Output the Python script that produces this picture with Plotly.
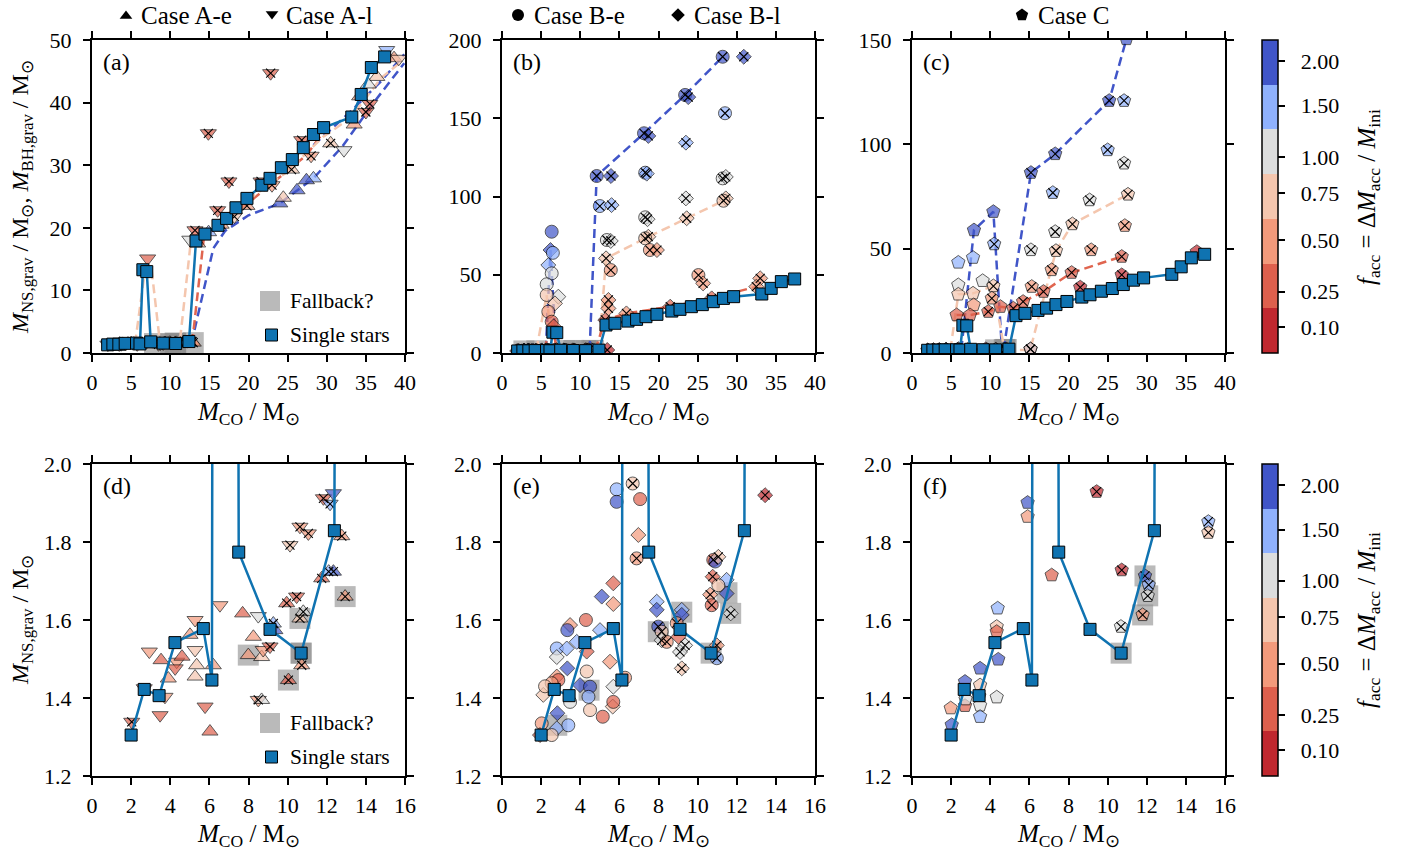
import plotly.graph_objects as go

W, H = 1411, 859
FONT = "Liberation Serif"

# ---------------- colour classes (f_acc) ----------------
F_LEVELS = [0.10, 0.25, 0.50, 0.75, 1.00, 1.50, 2.00]
F_COLORS = ["#c0282f", "#de604d", "#f39a7b", "#f4c6ae", "#dcdddd", "#8fb1fd", "#4055c8"]
CB_TICKPOS = [0.58, 1.37, 2.52, 3.57, 4.38, 5.53, 6.52]
CB_TICKTEXT = ["0.10", "0.25", "0.50", "0.75", "1.00", "1.50", "2.00"]

# ---------------- single stars ----------------
SS_X = [2.0, 2.67, 3.43, 4.24, 5.69, 6.13, 6.5, 7.0, 7.5, 9.1, 10.69, 12.39, 13.29, 14.44, 16.1,
        17.2, 18.4, 19.8, 21.7, 22.75, 24.2, 25.6, 27.0, 28.3, 29.6, 33.2, 34.4, 35.7, 37.4]
SS_Y = [1.305, 1.422, 1.406, 1.542, 1.578, 1.446, 13.3, 13.0, 1.774, 1.576, 1.515, 1.829, 17.9, 19.0, 20.4,
        21.5, 23.2, 24.7, 26.8, 27.9, 29.6, 30.9, 32.8, 34.9, 36.0, 37.7, 41.3, 45.6, 47.3]

# ---------------- Case A (u = A-e, d = A-l) ----------------
A_X = [2.03, 2.67, 3.48, 2.93, 3.53, 3.73, 3.9, 4.33, 4.25, 4.6, 5.01, 5.27, 5.27, 5.35, 5.27, 5.78, 6.03, 6.2,
       6.54, 7.7, 8.5, 8.25, 7.99, 8.67, 8.75, 9.1, 9.27, 9.35, 8.5, 8.67, 10.04, 9.95, 10.46, 10.63, 10.8,
       10.72, 10.12, 10.63, 11.06, 11.74, 12.34, 12.1, 11.83, 12.34, 12.17, 12.77, 12.94,
       7.11, 14.87, 17.5, 16.06, 13.16, 12.5, 13.5, 14.9, 22.83, 26.8, 21.6, 32.2, 24.0, 26.2, 28.3, 27.4,
       24.45, 35.0, 35.5, 36.4, 35.3, 37.66, 38.6, 16.5, 18.2, 19.8, 23.0, 25.5, 28.0, 30.5, 33.5, 34.2, 39.2]
A_Y = [1.339, 1.425, 1.356, 1.519, 1.497, 1.403, 1.45, 1.493, 1.476, 1.506, 1.562, 1.6, 1.523, 1.484, 1.455,
       1.378, 1.314, 1.484, 1.638, 1.617, 1.61, 1.557, 1.51, 1.505, 1.523, 1.532, 1.591, 1.574, 1.395, 1.395,
       1.446, 1.643, 1.66, 1.604, 1.621, 1.484, 1.792, 1.839, 1.822, 1.707, 1.724, 1.724, 1.912, 1.925, 1.898,
       1.815, 1.66,
       15.1, 35.1, 27.4, 22.8, 19.6, 18.1, 17.5, 19.3, 44.7, 34.0, 27.4, 32.4, 23.9, 26.0, 27.9, 27.6,
       24.8, 38.5, 39.8, 44.1, 42.9, 48.4, 47.1, 20.5, 21.8, 23.5, 26.8, 29.3, 31.5, 33.5, 36.5, 41.0, 47.0]
A_F = [0.25, 0.25, 0.25, 0.5, 0.25, 0.5, 0.5, 0.5, 0.25, 0.25, 0.5, 0.5, 0.75, 0.75, 0.75, 0.25, 0.25, 0.5,
       0.5, 0.25, 1.0, 0.5, 0.5, 0.75, 0.5, 0.25, 1.5, 2.0, 0.5, 1.0, 0.25, 0.25, 0.25, 0.75, 1.0,
       0.5, 0.75, 0.5, 0.5, 0.25, 2.0, 1.5, 0.25, 2.0, 1.5, 0.5, 0.5,
       0.25, 0.25, 0.25, 0.25, 0.25, 1.0, 0.75, 1.5, 0.25, 0.25, 0.25, 1.0, 2.0, 2.0, 1.5, 2.0,
       0.75, 0.25, 0.25, 0.75, 1.0, 1.5, 0.5, 0.5, 0.75, 0.5, 0.5, 0.75, 0.5, 0.75, 0.5, 0.5, 0.75]
A_S = ["d", "d", "d", "d", "u", "d", "u", "d", "d", "u", "u", "d", "d", "u", "u", "d", "u", "u",
       "d", "u", "d", "u", "u", "u", "d", "d", "u", "u", "d", "u", "u", "u", "d", "u", "u",
       "u", "d", "d", "d", "u", "u", "u", "d", "d", "d", "u", "u",
       "d", "d", "d", "d", "d", "d", "u", "u", "d", "d", "d", "d", "u", "u", "u", "u",
       "u", "d", "d", "u", "u", "d", "u", "u", "d", "u", "d", "u", "d", "u", "u", "u", "d"]
A_C = [1, 0, 0, 0, 0, 0, 0, 0, 0, 0, 0, 0, 0, 0, 0, 0, 0, 0,
       0, 0, 0, 0, 0, 0, 0, 1, 1, 0, 1, 0, 1, 1, 1, 1, 1,
       1, 1, 1, 1, 1, 1, 1, 1, 0, 1, 1, 1,
       0, 1, 1, 1, 1, 0, 0, 0, 1, 1, 1, 0, 0, 0, 0, 0,
       0, 1, 1, 0, 0, 0, 0, 1, 1, 1, 1, 1, 1, 1, 0, 0, 0]
A_FB_X = [7.99, 10.04, 10.63, 10.69, 10.69, 12.94]
A_FB_Y = [1.51, 1.446, 1.604, 1.515, 1.515, 1.66]

A_DASH = [
    ("#4055c8", [12.7, 15.5, 17.0, 20.0, 24.0, 26.2, 28.3, 32.0, 36.0, 39.9],
                [1.5, 16.7, 19.5, 22.0, 23.9, 26.0, 27.9, 33.0, 40.0, 46.3]),
    ("#4055c8", [28.3, 33.0, 37.0, 39.9], [33.2, 38.5, 43.5, 47.7]),
    ("#e0654f", [12.8, 14.3, 20.0, 27.4, 29.4], [1.6, 18.5, 24.0, 31.6, 35.0]),
    ("#f4c6ae", [5.5, 6.8, 7.6, 8.7, 11.2, 12.6, 16.0, 25.0, 29.5, 33.0, 37.0, 39.5],
                [1.5, 13.5, 13.5, 1.5, 1.5, 17.5, 21.0, 29.0, 34.5, 37.5, 44.0, 46.5]),
]

# ---------------- Case B (c = B-e, D = B-l) ----------------
B_X = [5.86, 5.86, 6.68, 7.06, 6.97, 6.88, 13.45, 5.69, 5.1, 5.69, 4.29, 3.48, 3.34, 5.01, 5.52, 5.69, 6.29,
       4.5, 5.15, 5.66, 5.69, 2.8, 3.31, 2.8, 3.82, 4.33, 3.34, 4.33, 2.8, 2.88, 3.99, 4.5, 4.42, 2.54, 2.11,
       3.48, 2.83, 2.8, 3.39, 2.03, 1.94, 2.54, 2.2, 7.91, 7.91, 7.99, 8.16, 8.16, 8.42, 9.19, 9.19, 8.93,
       9.02, 9.36, 9.1, 9.19, 10.8, 10.9, 11.06, 10.77, 11.48, 11.06, 11.48, 10.64, 10.72, 11.69, 10.98, 10.98,
       28.2, 30.9, 23.4, 23.8, 18.15, 18.7, 28.5, 23.5, 12.1, 13.93, 18.3, 18.5, 12.5, 14.0, 28.2, 28.6,
       23.5, 18.3, 18.6, 13.4, 13.9, 28.6, 28.3, 23.6, 18.7, 18.3, 18.9, 19.8, 13.3, 13.9, 25.1, 25.7, 33.0,
       32.5, 13.6, 13.6, 13.2, 15.9, 21.5, 26.8,
       6.35, 6.2, 6.5, 5.92, 6.35, 5.71, 7.2, 5.71, 6.77, 5.92, 6.35, 6.6]
B_Y = [1.935, 1.903, 1.95, 1.91, 1.818, 1.758, 1.92, 1.694, 1.66, 1.641, 1.6, 1.587, 1.574, 1.574, 1.493,
       1.429, 1.452, 1.369, 1.352, 1.378, 1.39, 1.527, 1.527, 1.505, 1.544, 1.519, 1.476, 1.468, 1.455, 1.446,
       1.433, 1.429, 1.403, 1.438, 1.408, 1.39, 1.361, 1.322, 1.33, 1.335, 1.305, 1.305, 1.43, 1.647, 1.626,
       1.583, 1.57, 1.548, 1.544, 1.626, 1.613, 1.592, 1.557, 1.535, 1.518, 1.476, 1.754, 1.75, 1.762, 1.711,
       1.703, 1.689, 1.668, 1.665, 1.638, 1.617, 1.535, 1.502,
       189.3, 189.3, 164.9, 163.5, 140.4, 138.7, 153.2, 134.4, 113.1, 113.1, 115.2, 114.6, 93.9, 94.5, 111.6,
       112.5, 98.8, 86.7, 85.5, 72.2, 71.6, 98.8, 97.3, 86.1, 74.3, 73.3, 65.8, 65.8, 60.5, 53.0, 49.8, 44.5,
       47.7, 42.4, 33.9, 28.5, 21.1, 25.3, 29.6, 34.9,
       77.5, 65.8, 64.0, 56.2, 50.9, 43.9, 36.0, 37.1, 31.7, 26.4, 20.0, 17.0]
B_F = [1.5, 2.0, 0.75, 0.25, 0.5, 0.5, 0.1, 0.25, 2.0, 0.5, 0.25, 0.5, 2.0, 1.5, 0.5, 1.0, 0.5,
       0.75, 0.25, 0.75, 0.25, 1.5, 1.5, 1.0, 1.5, 0.25, 2.0, 0.75, 0.5, 0.25, 2.0, 2.0, 1.5, 0.5, 0.75,
       1.0, 2.0, 1.5, 1.5, 0.5, 0.25, 0.75, 0.75, 1.5, 2.0, 2.0, 0.75, 1.0, 0.5, 1.5, 2.0, 0.5,
       0.25, 1.0, 1.0, 0.75, 0.25, 2.0, 0.75, 0.25, 1.5, 0.75, 2.0, 0.5, 0.25, 1.0, 0.5, 1.5,
       2.0, 2.0, 2.0, 2.0, 2.0, 2.0, 1.5, 1.5, 2.0, 2.0, 1.5, 1.5, 1.5, 1.5, 1.0, 1.0,
       1.0, 1.0, 1.0, 1.0, 1.0, 0.75, 0.75, 0.75, 0.75, 0.75, 0.5, 0.5, 0.75, 0.5, 0.5, 0.5, 0.5,
       0.5, 0.5, 0.5, 0.25, 0.5, 0.25, 0.25,
       2.0, 2.0, 1.5, 1.5, 1.0, 1.0, 1.0, 0.75, 0.75, 0.5, 0.25, 0.25]
B_S = ["c", "c", "c", "c", "D", "c", "D", "D", "D", "D", "c", "D", "c", "D", "D", "D", "c",
       "c", "c", "D", "c", "c", "D", "D", "D", "D", "D", "c", "D", "c", "D", "c", "c", "c", "D",
       "c", "D", "D", "c", "c", "D", "c", "c", "D", "D", "c", "c", "D", "c", "D", "D", "c",
       "D", "D", "D", "D", "c", "c", "D", "D", "D", "c", "D", "D", "c", "D", "D", "c",
       "c", "D", "c", "D", "c", "D", "c", "D", "c", "D", "c", "D", "c", "D", "c", "D",
       "D", "c", "D", "c", "D", "D", "c", "D", "D", "c", "c", "D", "D", "c", "c", "D", "D",
       "D", "D", "D", "D", "D", "D", "D",
       "c", "D", "c", "D", "c", "c", "D", "c", "D", "c", "c", "D"]
B_C = [0, 0, 1, 0, 0, 1, 1, 0, 0, 0, 0, 0, 0, 0, 0, 0, 0,
       0, 0, 0, 0, 0, 0, 0, 0, 0, 0, 0, 0, 0, 0, 0, 0, 0, 0,
       0, 0, 0, 0, 0, 0, 0, 0, 0, 0, 1, 1, 1, 1, 0, 0, 1,
       0, 1, 1, 1, 1, 0, 1, 1, 0, 0, 0, 1, 1, 1, 1, 1,
       1, 1, 1, 1, 1, 1, 1, 1, 1, 1, 1, 1, 1, 1, 1, 1,
       1, 1, 1, 1, 1, 1, 1, 1, 1, 1, 1, 1, 1, 1, 1, 1, 1,
       1, 1, 1, 1, 1, 1, 1,
       0, 0, 0, 0, 0, 0, 0, 0, 0, 0, 0, 0]
B_FB_X = [2.8, 4.45, 7.99, 9.19, 10.69, 11.69, 11.5]
B_FB_Y = [1.33, 1.42, 1.57, 1.62, 1.515, 1.617, 1.67]

B_DASH = [
    ("#4055c8", [11.2, 12.1, 18.15, 23.4, 28.2], [2.0, 113.1, 140.4, 164.9, 189.3]),
    ("#4055c8", [5.6, 6.2, 6.9], [2.0, 65.8, 2.0]),
    ("#f4c6ae", [12.4, 13.3, 18.3, 23.6, 28.3], [2.0, 60.5, 73.3, 86.1, 97.3]),
    ("#f4c6ae", [4.4, 5.7, 6.4], [2.0, 37.1, 2.0]),
    ("#e0654f", [11.9, 13.2, 15.9, 21.5, 26.8, 32.5], [1.8, 21.1, 25.3, 29.6, 34.9, 42.4]),
    ("#e0654f", [5.4, 6.35, 7.0], [2.0, 20.0, 2.0]),
]

# ---------------- Case C (p = pentagon) ----------------
C_X = [5.91, 5.91, 9.44, 15.15, 15.15, 7.14, 10.72, 11.91, 12.1, 12.05, 11.79, 10.68, 4.38, 4.33, 4.33,
       4.41, 3.48, 3.48, 4.33, 2.71, 2.71, 2.74, 1.98, 3.44, 3.48, 3.48, 2.03,
       27.4, 25.2, 27.1, 18.3, 15.2, 25.0, 27.1, 18.0, 22.7, 27.6, 20.5, 18.3, 27.2, 15.2, 18.4, 22.9,
       10.4, 7.92, 10.5, 5.92, 7.8, 5.92, 9.03, 10.4, 5.92, 7.8, 10.2, 7.88, 5.7, 7.41, 9.75, 11.3,
       17.85, 15.3, 20.4, 26.8, 26.8, 21.5, 16.8, 14.2, 12.95, 36.4]
C_Y = [1.901, 1.865, 1.929, 1.852, 1.824, 1.715, 1.728, 1.713, 1.69, 1.662, 1.613, 1.583, 1.63, 1.583, 1.57,
       1.499, 1.476, 1.433, 1.402, 1.442, 1.38, 1.397, 1.374, 1.405, 1.381, 1.352, 1.331,
       150.5, 120.9, 120.9, 95.4, 86.4, 97.3, 90.9, 76.8, 73.3, 76.0, 61.8, 58.1, 61.0, 49.4, 49.0, 49.4,
       67.7, 58.9, 52.2, 43.4, 45.7, 32.6, 34.6, 32.1, 28.1, 28.6, 26.2, 23.0, 18.2, 18.2, 19.8, 22.2,
       39.8, 31.8, 38.5, 46.2, 37.4, 31.5, 29.4, 24.6, 21.4, 48.5]
C_F = [2.0, 0.5, 0.1, 1.5, 0.75, 0.25, 0.1, 2.0, 1.5, 1.0, 0.5, 1.0, 1.5, 0.75, 0.25,
       2.0, 2.0, 0.75, 1.0, 2.0, 0.25, 1.0, 0.5, 0.25, 1.0, 1.5, 2.0,
       2.0, 2.0, 1.5, 2.0, 2.0, 1.5, 1.0, 1.5, 1.0, 0.75, 0.75, 1.0, 0.5, 1.0, 0.75, 0.5,
       2.0, 2.0, 1.5, 1.5, 1.5, 1.0, 1.0, 0.75, 0.75, 0.75, 0.5, 0.5, 0.25, 0.25, 0.25, 0.25,
       0.5, 0.5, 0.25, 0.25, 0.1, 0.1, 0.25, 0.25, 0.25, 0.1]
C_C = [0, 0, 1, 1, 1, 0, 1, 1, 1, 1, 1, 1, 0, 0, 0,
       0, 0, 0, 0, 0, 0, 0, 0, 0, 0, 0, 0,
       0, 1, 1, 1, 1, 1, 1, 1, 1, 1, 1, 1, 1, 1, 1, 1,
       0, 0, 1, 0, 0, 0, 0, 1, 0, 0, 1, 0, 0, 0, 1, 0,
       1, 1, 1, 1, 1, 1, 1, 1, 1, 0]
C_S = ["p"] * len(C_X)
C_FB_X = [11.91, 12.05, 11.79, 10.69]
C_FB_Y = [1.713, 1.662, 1.613, 1.515]

C_DASH = [
    ("#4055c8", [11.7, 15.2, 18.3, 25.2, 27.4, 28.0], [1.5, 86.4, 95.4, 120.9, 150.5, 165.0]),
    ("#4055c8", [6.3, 7.92, 10.4, 11.5], [1.5, 58.9, 67.7, 1.5]),
    ("#f4c6ae", [12.0, 15.1, 18.4, 20.5, 27.6], [1.4, 1.4, 49.0, 61.8, 76.0]),
    ("#f4c6ae", [4.9, 5.92, 7.8, 10.4, 11.8], [1.5, 28.1, 28.6, 32.1, 1.5]),
    ("#e0654f", [5.7, 7.41, 9.75, 11.3, 12.95, 14.2, 16.8, 20.4, 26.8],
                [18.2, 18.2, 19.8, 22.2, 21.4, 24.6, 29.4, 38.5, 46.2]),
]

SS_COLOR = "#0f73b1"
SYM = {"u": "triangle-up", "d": "triangle-down", "c": "circle", "D": "diamond", "p": "pentagon"}
SIZE = {"u": 14, "d": 14, "c": 13, "D": 11.5, "p": 14}

# ---------------- layout geometry (pixels) ----------------
COLS = [(92, 405), (502, 815), (912, 1225)]
ROWS = [(40, 353), (464, 776)]
TOP_YR = [[0, 50], [0, 200], [0, 150]]
TOP_YT = [[0, 10, 20, 30, 40, 50], [0, 50, 100, 150, 200], [0, 50, 100, 150]]
TICK_FS = 22

fig = go.Figure()


def fcol(f):
    return F_COLORS[F_LEVELS.index(f)]


def xn(k):
    return "x" if k == 1 else "x%d" % k


def yn(k):
    return "y" if k == 1 else "y%d" % k


def axis_style():
    return dict(showline=True, linecolor="black", linewidth=2, mirror="allticks",
                ticks="outside", ticklen=7, tickwidth=1.5, tickcolor="black",
                showgrid=False, zeroline=False,
                tickfont=dict(family=FONT, size=TICK_FS, color="black"))


layout = dict(width=W, height=H, autosize=False,
              margin=dict(l=0, r=0, t=0, b=0, pad=0, autoexpand=False),
              paper_bgcolor="white", plot_bgcolor="rgba(0,0,0,0)", showlegend=False,
              font=dict(family=FONT, size=21, color="black"))

for r in range(2):
    for c in range(3):
        k = r * 3 + c + 1
        xa = axis_style()
        ya = axis_style()
        xa.update(domain=[COLS[c][0] / W, COLS[c][1] / W], anchor=yn(k), ticklabelstandoff=2)
        ya.update(domain=[1 - ROWS[r][1] / H, 1 - ROWS[r][0] / H], anchor=xn(k), ticklabelstandoff=7)
        if r == 0:
            xa.update(range=[0, 40], tickvals=list(range(0, 41, 5)))
            ya.update(range=TOP_YR[c], tickvals=TOP_YT[c])
        else:
            xa.update(range=[0, 16], tickvals=list(range(0, 17, 2)))
            ya.update(range=[1.2, 2.0], tickvals=[1.2, 1.4, 1.6, 1.8, 2.0], tickformat=".1f")
        layout["xaxis" if k == 1 else "xaxis%d" % k] = xa
        layout["yaxis" if k == 1 else "yaxis%d" % k] = ya

# overlay axis for legend glyphs (pixel coordinates)
layout["xaxis7"] = dict(domain=[0, 1], range=[0, W], visible=False, anchor="y7")
layout["yaxis7"] = dict(domain=[0, 1], range=[H, 0], visible=False, anchor="x7")

CASES = [
    (A_X, A_Y, A_F, A_S, A_C, A_FB_X, A_FB_Y, A_DASH),
    (B_X, B_Y, B_F, B_S, B_C, B_FB_X, B_FB_Y, B_DASH),
    (C_X, C_Y, C_F, C_S, C_C, C_FB_X, C_FB_Y, C_DASH),
]

for c, (xs, ys, fs, ss, cs, fbx, fby, dashes) in enumerate(CASES):
    for r in range(2):
        k = r * 3 + c + 1
        xr, yr = xn(k), yn(k)
        fig.add_trace(go.Scatter(x=fbx, y=fby, xaxis=xr, yaxis=yr, mode="markers",
                                 marker=dict(symbol="square", size=21, color="rgba(140,140,140,0.6)",
                                             line=dict(width=0))))
        if r == 0:
            for col, dx, dy in dashes:
                fig.add_trace(go.Scatter(x=dx, y=dy, xaxis=xr, yaxis=yr, mode="lines",
                                         line=dict(color=col, width=2.5, dash="9px,5px")))
        fig.add_trace(go.Scatter(
            x=xs, y=ys, xaxis=xr, yaxis=yr, mode="markers",
            marker=dict(symbol=[SYM[s] for s in ss], size=[SIZE[s] for s in ss],
                        color=[fcol(f) for f in fs], line=dict(color="black", width=0.9))))
        cx = [x for x, q in zip(xs, cs) if q]
        cy = [y for y, q in zip(ys, cs) if q]
        fig.add_trace(go.Scatter(x=cx, y=cy, xaxis=xr, yaxis=yr, mode="markers",
                                 marker=dict(symbol="x-thin", size=9, color="black",
                                             line=dict(color="black", width=1.1))))
        fig.add_trace(go.Scatter(x=SS_X, y=SS_Y, xaxis=xr, yaxis=yr, mode="lines+markers",
                                 line=dict(color=SS_COLOR, width=2.5),
                                 marker=dict(symbol="square", size=12, color=SS_COLOR,
                                             line=dict(color="black", width=1))))

# colour bars
cscale = []
for i, col in enumerate(F_COLORS):
    cscale.append([i / 7, col])
    cscale.append([(i + 1) / 7, col])
for r in range(2):
    t, b = ROWS[r]
    k = r * 3 + 1
    fig.add_trace(go.Scatter(
        x=[-100], y=[-100], xaxis=xn(k), yaxis=yn(k), mode="markers",
        marker=dict(color=[0], cmin=0, cmax=7, colorscale=cscale, showscale=True, size=1,
                    colorbar=dict(x=1262 / W, xanchor="left", xpad=0, y=1 - (t + b) / 2 / H,
                                  yanchor="middle", ypad=0, len=(b - t) / H, lenmode="fraction",
                                  thickness=16, thicknessmode="pixels", outlinewidth=1.5,
                                  outlinecolor="black", tickvals=CB_TICKPOS,
                                  ticktext=["\u00a0\u00a0" + s for s in CB_TICKTEXT],
                                  ticks="outside", ticklen=7, tickwidth=1.5, tickcolor="black",
                                  tickfont=dict(family=FONT, size=TICK_FS, color="black")))))

# legend glyphs (pixel-space overlay)
GLYPHS = [("triangle-up", 126, 16, 11), ("triangle-down", 272, 14, 11), ("circle", 518, 15, 12),
          ("diamond", 678, 15, 10.5), ("pentagon", 1022, 15, 13)]
for sym, gx, gy, gs in GLYPHS:
    fig.add_trace(go.Scatter(x=[gx], y=[gy], xaxis="x7", yaxis="y7", mode="markers",
                             marker=dict(symbol=sym, size=gs, color="black")))
for gy0 in [301, 723]:
    fig.add_trace(go.Scatter(x=[270], y=[gy0], xaxis="x7", yaxis="y7", mode="markers",
                             marker=dict(symbol="square", size=20, color="rgba(140,140,140,0.6)")))
    fig.add_trace(go.Scatter(x=[271.5], y=[gy0 + 34], xaxis="x7", yaxis="y7", mode="markers",
                             marker=dict(symbol="square", size=12, color=SS_COLOR,
                                         line=dict(color="black", width=1))))

ann = []


def txt(x, y, s, xanchor="left", angle=0, size=21):
    ann.append(dict(x=x / W, y=1 - y / H, xref="paper", yref="paper", text=s, showarrow=False,
                    xanchor=xanchor, yanchor="middle", textangle=angle,
                    font=dict(family=FONT, size=size, color="black")))


for s, x0 in [("Case A-e", 139), ("Case A-l", 284), ("Case B-e", 532), ("Case B-l", 692), ("Case C", 1036)]:
    txt(x0, 16, s, size=25)
for lab, (c, r) in zip("abcdef", [(0, 0), (1, 0), (2, 0), (0, 1), (1, 1), (2, 1)]):
    txt(COLS[c][0] + 9, ROWS[r][0] + 22, "(%s)" % lab, size=24)
for gy0 in [301, 723]:
    txt(288, gy0, "Fallback?", size=21.5)
    txt(288, gy0 + 34, "Single stars", size=21.5)
XT = "<i>M</i><sub>CO</sub> / M<sub>⊙</sub>"
for r, yy in enumerate([413, 835]):
    for c in range(3):
        txt((COLS[c][0] + COLS[c][1]) / 2, yy, XT, xanchor="center", size=25)
txt(22, 197, "<i>M</i><sub>NS,grav</sub> / M<sub>⊙</sub>, <i>M</i><sub>BH,grav</sub> / M<sub>⊙</sub>",
    xanchor="center", angle=-90, size=24)
txt(22, 620, "<i>M</i><sub>NS,grav</sub> / M<sub>⊙</sub>", xanchor="center", angle=-90, size=24)
CBT = "<i>f</i><sub>acc</sub> = Δ<i>M</i><sub>acc</sub> / <i>M</i><sub>ini</sub>"
txt(1368, 197, CBT, xanchor="center", angle=-90, size=25)
txt(1368, 620, CBT, xanchor="center", angle=-90, size=25)

layout["annotations"] = ann
fig.update_layout(**layout)
fig.write_html("out.html")
